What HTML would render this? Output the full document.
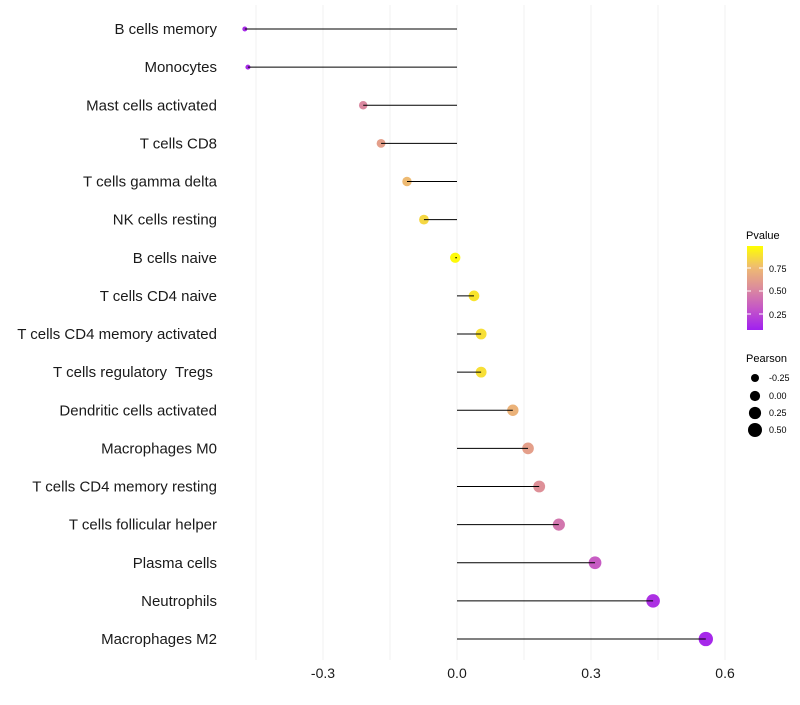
<!DOCTYPE html>
<html><head><meta charset="utf-8"><style>
body{margin:0;background:#fff;font-family:"Liberation Sans",sans-serif}
</style></head><body>
<svg id="c" width="800" height="700" xmlns="http://www.w3.org/2000/svg" font-family="Liberation Sans, sans-serif">
<defs><linearGradient id="g" x1="0" y1="1" x2="0" y2="0">
<stop offset="0" stop-color="#A020F0"/><stop offset="0.25" stop-color="#C455C8"/><stop offset="0.5" stop-color="#DC8C9C"/><stop offset="0.75" stop-color="#EFBC70"/><stop offset="1" stop-color="#FFFF00"/></linearGradient></defs>
<g id="grid"></g>
<g id="marks"></g>
<g id="ylab"></g>
<g id="xlab"></g>
<g font-size="10">
<text x="746" y="239" font-size="11">Pvalue</text>
<rect x="747" y="246" width="16" height="84" fill="url(#g)"/>
<line x1="747" x2="751" y1="268" y2="268" stroke="#fff"/><line x1="759" x2="763" y1="268" y2="268" stroke="#fff"/>
<line x1="747" x2="751" y1="291" y2="291" stroke="#fff"/><line x1="759" x2="763" y1="291" y2="291" stroke="#fff"/>
<line x1="747" x2="751" y1="314" y2="314" stroke="#fff"/><line x1="759" x2="763" y1="314" y2="314" stroke="#fff"/>
<text x="769" y="272" font-size="9">0.75</text><text x="769" y="294" font-size="9">0.50</text><text x="769" y="318" font-size="9">0.25</text>
</g>
<g>
<text x="746" y="362" font-size="11">Pearson</text>
<circle cx="755" cy="378" r="4"/><text x="769" y="381" font-size="9">-0.25</text>
<circle cx="755" cy="396" r="5.1"/><text x="769" y="399" font-size="9">0.00</text>
<circle cx="755" cy="413" r="6.1"/><text x="769" y="416" font-size="9">0.25</text>
<circle cx="755" cy="430" r="7"/><text x="769" y="433" font-size="9">0.50</text>
</g>
</svg>
<script>
const categories=["B cells memory","Monocytes","Mast cells activated","T cells CD8","T cells gamma delta","NK cells resting","B cells naive","T cells CD4 naive","T cells CD4 memory activated","T cells regulatory  Tregs ","Dendritic cells activated","Macrophages M0","T cells CD4 memory resting","T cells follicular helper","Plasma cells","Neutrophils","Macrophages M2"];
const pearson=[-0.475,-0.468,-0.21,-0.17,-0.112,-0.074,-0.004,0.038,0.054,0.054,0.125,0.159,0.184,0.228,0.309,0.439,0.557];
const pvalue=[0.05,0.05,0.48,0.6,0.74,0.85,0.98,0.9,0.88,0.88,0.7,0.6,0.52,0.4,0.28,0.08,0.04];
const xTicks=[-0.3,0,0.3,0.6];
const xTickLabels=["-0.3","0.0","0.3","0.6"];
const gridVals=[-0.45,-0.3,-0.15,0,0.15,0.3,0.45,0.6];
const NS="http://www.w3.org/2000/svg";
const x=v=>457+v*446.7;
const y=i=>29+i*38.125;
const r=v=>Math.sqrt(Math.max(2,16+(v+0.25)*44));
const stops=[[0,[160,32,240]],[0.25,[196,85,200]],[0.5,[220,140,156]],[0.75,[239,188,112]],[1,[255,255,0]]];
function col(p){for(let k=1;k<stops.length;k++){if(p<=stops[k][0]){const a=stops[k-1],b=stops[k],t=(p-a[0])/(b[0]-a[0]);return "rgb("+a[1].map((c,j)=>Math.round(c+(b[1][j]-c)*t)).join(",")+")";}}return "rgb(255,255,0)";}
function mk(t,at,parent){const e=document.createElementNS(NS,t);for(const k in at)e.setAttribute(k,at[k]);document.getElementById(parent).appendChild(e);return e;}
gridVals.forEach(v=>{const l=mk("line",{x1:x(v),x2:x(v),y1:5,y2:660,stroke:"#f0f0f0","stroke-width":1},"grid");

});
categories.forEach((c,i)=>{
const v=pearson[i];
const p=mk("circle",{cx:x(v),cy:y(i),r:r(v),fill:col(pvalue[i])},"marks");


const l=mk("line",{x1:x(v),x2:x(0),y1:y(i),y2:y(i),stroke:"#000","stroke-width":1},"marks");


const t=mk("text",{x:217,y:y(i)+5,"text-anchor":"end","font-size":15,fill:"#1a1a1a",style:"white-space:pre"},"ylab");
t.textContent=c;


});
xTicks.forEach((v,i)=>{const t=mk("text",{x:x(v),y:678,"text-anchor":"middle","font-size":14,fill:"#1a1a1a"},"xlab");
t.textContent=xTickLabels[i];

});
</script>
</body></html>
